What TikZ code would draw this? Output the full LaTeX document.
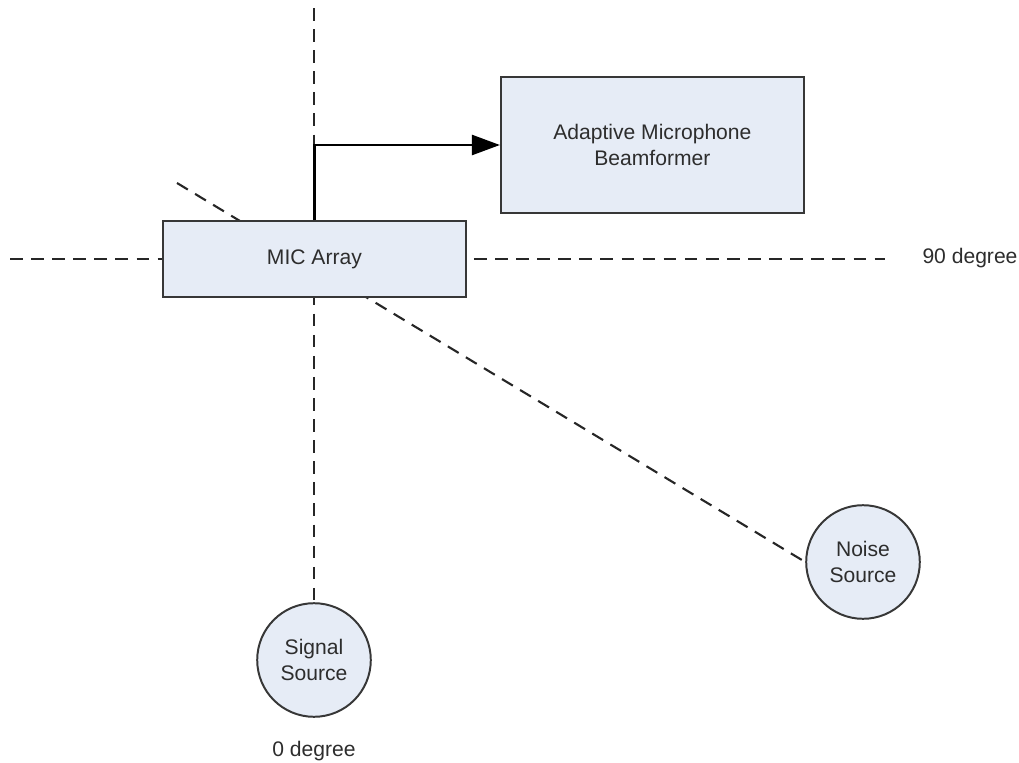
\documentclass[tikz,border=0pt]{standalone}
\usepackage{fontspec}
\setmainfont{Liberation Sans}
\usetikzlibrary{arrows.meta}
\definecolor{boxfill}{RGB}{230,236,246}
\definecolor{boxline}{RGB}{55,55,55}
\definecolor{txt}{RGB}{45,45,45}
\begin{document}
\begin{tikzpicture}[
    font=\fontsize{15}{18.5}\selectfont,
    axis/.style={line width=1.5pt,dash pattern=on 9pt off 6pt,black!85},
    block/.style={draw=boxline,line width=1.4pt,fill=boxfill,text=txt,align=center,
        minimum width=7.575cm,inner sep=0pt},
    source/.style={circle,draw=boxline,line width=1.4pt,fill=boxfill,text=txt,align=center,
        minimum size=2.84cm,inner sep=0pt},
    label/.style={text=txt}]
    \useasboundingbox (0,0) rectangle (25.475,-19.075);

    % guide lines first, the boxes cover them
    \coordinate (left) at (0.25,-6.475);
    \coordinate (right) at (22.125,-6.475);
    \coordinate (top) at (7.85,-0.2);
    \coordinate (corner) at (7.85,-3.625);
    \coordinate (back) at (4.425,-4.575);

    \node[source] (signal) at (7.85,-16.5) {Signal\\Source};
    \node[source] (noise) at (21.575,-14.05) {Noise\\Source};
    \node[label] (zero) at (7.85,-18.78) {0 degree};
    \node[label] (ninety) at (24.25,-6.45) {90 degree};

    \draw[axis] (left) -- (right);
    \draw[axis] (top) -- (corner);
    \draw[axis] (corner) -- (signal.north);
    \draw[axis] (back) -- (noise.west);

    \node[block,minimum height=1.9cm] (mic) at (7.86,-6.475) {MIC Array};
    \node[block,minimum height=3.4cm] (beam) at (16.31,-3.625) {Adaptive Microphone\\Beamformer};

    \draw[line width=1.8pt,-{Triangle[length=0.7cm,width=0.5cm]}] (mic.north) |- (beam.west);
\end{tikzpicture}
\end{document}
